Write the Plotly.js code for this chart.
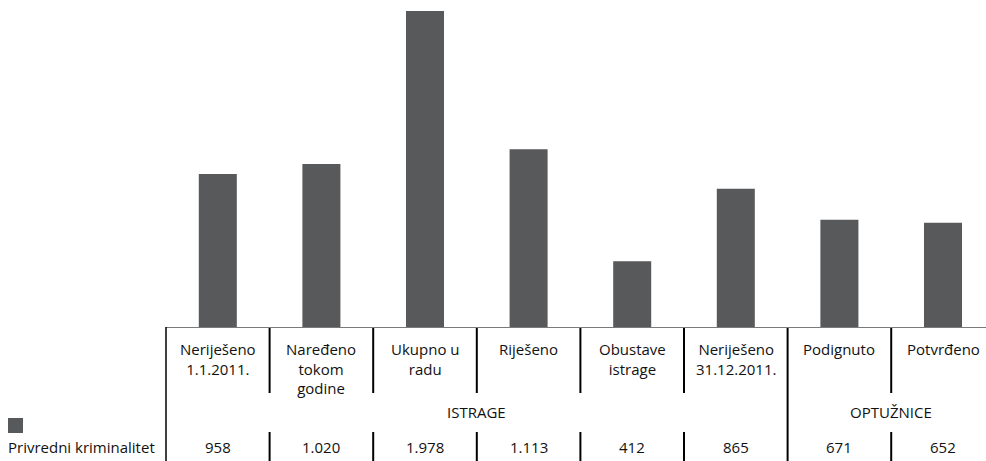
<!DOCTYPE html>
<html>
<head>
<meta charset="utf-8">
<script src="https://cdn.plot.ly/plotly-3.0.1.min.js"></script>
<style>html,body{margin:0;padding:0;background:#fff;}#chart{width:986px;height:461px;}</style>
</head>
<body>
<div id="chart"></div>
<script>
const categories = ["Neriješeno<br>1.1.2011.", "Naređeno<br>tokom<br>godine", "Ukupno u<br>radu", "Riješeno", "Obustave<br>istrage", "Neriješeno<br>31.12.2011.", "Podignuto", "Potvrđeno"];
const values = [958, 1020, 1978, 1113, 412, 865, 671, 652];
const valueLabels = ["958", "1.020", "1.978", "1.113", "412", "865", "671", "652"];
const groupNames = ["ISTRAGE", "OPTUŽNICE"];
const groupStart = [0, 6];
const groupEnd = [5, 7];
const seriesName = "Privredni kriminalitet";

const W = 986, H = 461, ML = 166, MB = 134, MT = 0;
const plotH = H - MB - MT;
const py = px => (plotH - (px - MT)) / plotH; // pixel row -> paper y
const FONT = "Open Sans, Noto Sans, sans-serif";
const TXT = "#111111";
const BAR = "#58595b";
const FS = 15;

const idx = categories.map((_, i) => i);

const shapes = [];
const annotations = [];
// left border
shapes.push({type: "line", xref: "paper", yref: "paper", x0: 0, x1: 0, y0: py(327), y1: py(461), line: {color: "#000", width: 1.5}});
// column dividers
for (let i = 0; i < categories.length - 1; i++) {
  const isGroupBorder = groupStart.includes(i + 1);
  if (isGroupBorder) {
    shapes.push({type: "line", xref: "x", yref: "paper", x0: i + 0.5, x1: i + 0.5, y0: py(328), y1: py(461), line: {color: "#000", width: 2}});
  } else {
    shapes.push({type: "line", xref: "x", yref: "paper", x0: i + 0.5, x1: i + 0.5, y0: py(328), y1: py(393), line: {color: "#000", width: 2}});
    shapes.push({type: "line", xref: "x", yref: "paper", x0: i + 0.5, x1: i + 0.5, y0: py(432), y1: py(461), line: {color: "#000", width: 2}});
  }
}
// category labels
categories.forEach((c, i) => {
  annotations.push({xref: "x", yref: "paper", x: i, y: py(337), yanchor: "top", xanchor: "center", text: c, showarrow: false, align: "center", font: {family: FONT, size: FS, color: TXT}});
  annotations.push({xref: "x", yref: "paper", x: i, y: py(447), yanchor: "middle", xanchor: "center", text: valueLabels[i], showarrow: false, font: {family: FONT, size: FS, color: TXT}});
});
groupNames.forEach((g, k) => {
  annotations.push({xref: "x", yref: "paper", x: (groupStart[k] + groupEnd[k]) / 2, y: py(412), yanchor: "middle", xanchor: "center", text: g, showarrow: false, font: {family: FONT, size: FS, color: TXT}});
});
// legend
shapes.push({type: "rect", xref: "paper", yref: "paper", x0: -158 / (W - ML), x1: -143 / (W - ML), y0: py(433), y1: py(418), fillcolor: BAR, line: {width: 0}});
annotations.push({xref: "paper", yref: "paper", x: -160 / (W - ML), y: py(447), xanchor: "left", yanchor: "middle", text: seriesName, showarrow: false, font: {family: FONT, size: FS, color: TXT}});

const trace = {type: "bar", x: idx, y: values, marker: {color: BAR}, hoverinfo: "skip", name: seriesName};

const layout = {
  width: W, height: H,
  margin: {l: ML, r: 0, t: MT, b: MB, pad: 0},
  paper_bgcolor: "#fff", plot_bgcolor: "#fff",
  showlegend: false,
  bargap: 0.633,
  xaxis: {range: [-0.5, 7.415], showticklabels: false, ticks: "", showgrid: false, zeroline: false, showline: true, linecolor: "#7a7a7a", linewidth: 1, fixedrange: true},
  yaxis: {range: [0, 2047], visible: false, showgrid: false, zeroline: false, fixedrange: true},
  shapes: shapes,
  annotations: annotations
};

Plotly.newPlot("chart", [trace], layout, {displayModeBar: false, staticPlot: true});
</script>
</body>
</html>
